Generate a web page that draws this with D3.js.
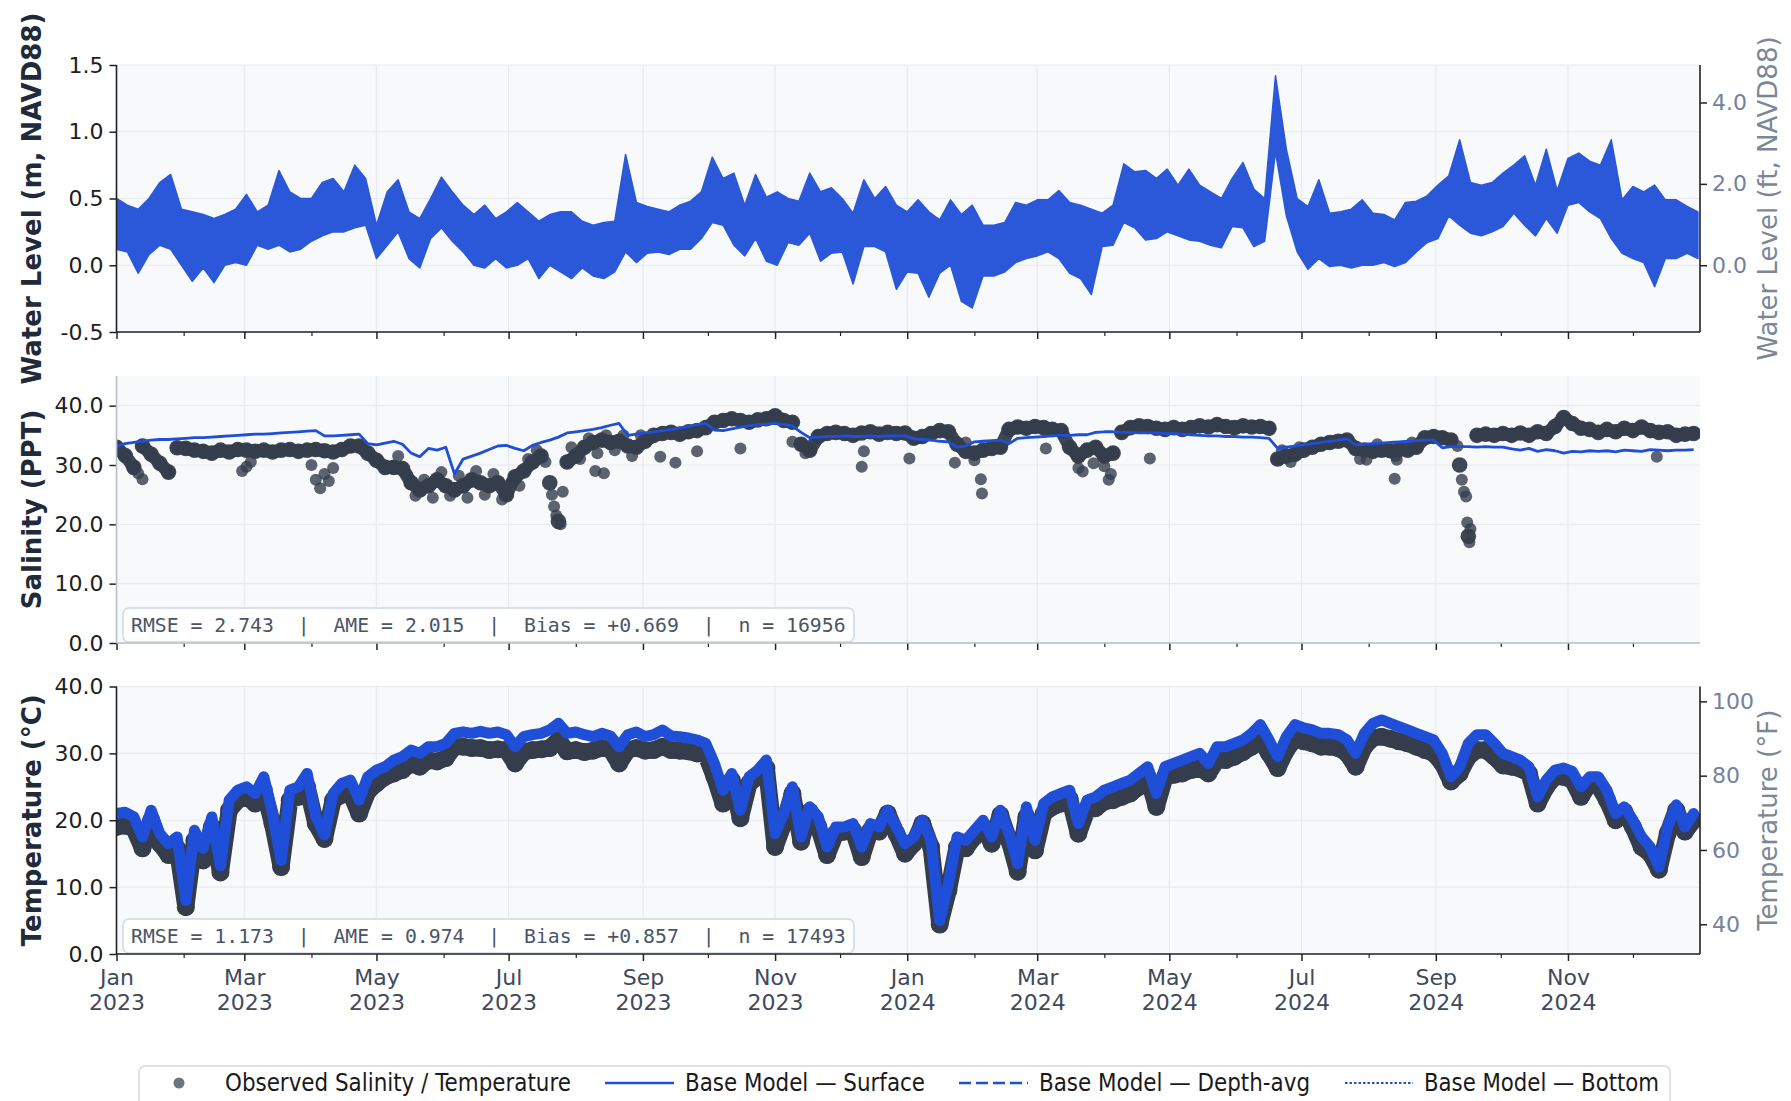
<!DOCTYPE html>
<html lang="en">
<head>
<meta charset="utf-8">
<title>Water level, salinity and temperature – observed vs model</title>
<script src="https://cdn.jsdelivr.net/npm/d3@7/dist/d3.min.js"></script>
<style>
html,body{margin:0;padding:0;background:#ffffff;}
svg{display:block;font-family:"DejaVu Sans","Noto Sans",sans-serif;}
</style>
</head>
<body>
<svg id="chart" width="1791" height="1101"></svg>
<script>
// ---------------- DATA ----------------
const seriesStartUTC = Date.UTC(2023, 0, 1);

// Water level (m, NAVD88): upper / lower envelope of the tidal signal, every 5 days
const wlStepDays = 5;
const wlHigh = [
 0.50,0.45,0.42,0.50,0.62,0.68,0.42,0.40,0.38,0.35,
 0.38,0.42,0.53,0.40,0.45,0.71,0.55,0.50,0.50,0.62,
 0.65,0.55,0.75,0.65,0.30,0.55,0.64,0.40,0.35,0.50,
 0.66,0.55,0.45,0.38,0.45,0.35,0.40,0.47,0.40,0.33,
 0.38,0.40,0.40,0.33,0.30,0.32,0.33,0.83,0.47,0.44,
 0.42,0.40,0.45,0.48,0.55,0.81,0.65,0.69,0.45,0.68,
 0.51,0.55,0.50,0.48,0.69,0.55,0.58,0.50,0.39,0.64,
 0.50,0.59,0.45,0.40,0.49,0.40,0.34,0.49,0.38,0.45,
 0.30,0.30,0.32,0.47,0.45,0.49,0.49,0.56,0.47,0.45,
 0.42,0.39,0.45,0.76,0.70,0.71,0.65,0.72,0.60,0.72,
 0.60,0.55,0.50,0.65,0.77,0.57,0.50,1.42,0.87,0.50,
 0.44,0.64,0.39,0.40,0.42,0.49,0.39,0.38,0.34,0.47,
 0.48,0.52,0.60,0.67,0.94,0.62,0.60,0.62,0.69,0.75,
 0.82,0.60,0.87,0.56,0.80,0.84,0.78,0.75,0.94,0.49,
 0.59,0.55,0.60,0.49,0.49,0.44,0.40];
const wlLow = [
 0.12,0.10,-0.06,0.08,0.15,0.12,0.00,-0.12,-0.02,-0.13,
 0.00,0.02,0.00,0.15,0.12,0.15,0.10,0.12,0.18,0.22,
 0.25,0.25,0.28,0.30,0.05,0.15,0.25,0.05,-0.02,0.20,
 0.28,0.18,0.10,0.00,-0.02,0.05,-0.02,0.00,0.05,-0.10,
 0.00,-0.05,-0.10,-0.02,-0.08,-0.10,-0.05,0.10,0.02,0.09,
 0.10,0.08,0.12,0.12,0.20,0.32,0.30,0.15,0.07,0.20,
 0.03,0.00,0.17,0.15,0.24,0.03,0.09,0.10,-0.14,0.14,
 0.14,0.10,-0.18,-0.05,-0.06,-0.24,-0.06,0.00,-0.27,-0.32,
 -0.08,-0.08,-0.05,0.02,0.05,0.07,0.10,0.05,-0.06,-0.10,
 -0.22,0.14,0.15,0.32,0.28,0.19,0.20,0.25,0.22,0.19,
 0.18,0.15,0.13,0.29,0.28,0.14,0.18,0.85,0.37,0.10,
 -0.03,0.05,-0.01,0.00,-0.02,0.00,0.00,0.02,-0.01,0.02,
 0.10,0.17,0.20,0.37,0.30,0.24,0.22,0.25,0.29,0.39,
 0.30,0.22,0.35,0.24,0.45,0.47,0.40,0.35,0.20,0.09,
 0.05,0.02,-0.16,0.05,0.05,0.09,0.05];

// Salinity (PPT), every 4 days
const salStepDays = 4;
const salModel = [
 33.1,33.6,33.8,34.0,34.2,34.3,34.3,34.4,34.5,34.6,
 34.6,34.7,34.8,34.9,35.0,35.1,35.2,35.2,35.3,35.4,
 35.5,35.6,35.7,35.8,34.9,34.9,35.0,35.1,35.2,33.6,
 33.4,33.7,34.0,33.5,32.0,31.4,32.8,32.5,33.0,28.5,
 31.0,31.5,32.0,32.6,33.2,33.3,32.8,32.4,33.3,33.8,
 34.2,34.7,35.4,35.6,35.8,36.0,36.3,36.7,37.0,35.0,
 35.2,35.4,35.6,35.8,36.0,36.2,36.5,36.8,37.0,35.9,
 35.8,36.1,36.4,36.6,36.8,36.9,37.0,36.8,36.6,35.5,
 34.6,34.7,34.8,34.8,34.9,34.8,34.8,34.9,34.8,34.9,
 34.9,34.9,34.4,34.3,34.2,34.0,33.9,33.0,33.2,33.9,
 34.0,34.1,34.2,33.6,34.5,34.6,34.7,34.8,34.9,35.0,
 35.0,35.1,35.1,35.5,35.6,35.6,35.5,35.5,35.4,35.4,
 35.4,35.3,35.3,35.2,35.1,35.0,34.9,34.9,34.8,34.8,
 34.7,34.7,34.6,34.5,32.8,33.0,33.2,33.4,33.6,33.8,
 34.0,34.2,34.4,33.4,33.5,33.6,33.7,33.8,33.9,34.0,
 34.1,34.2,34.2,32.9,33.1,33.1,33.1,33.0,33.1,33.0,
 33.0,32.7,32.5,32.8,32.3,32.6,32.4,32.0,32.3,32.2,
 32.4,32.3,32.4,32.2,32.5,32.4,32.3,32.6,32.5,32.4,
 32.5,32.5,32.6];
const salObs = [
 33.0,31.6,29.6,33.2,31.8,30.3,28.8,32.9,32.8,32.5,
 32.3,32.0,32.5,32.2,32.6,32.5,32.3,32.5,32.2,32.5,
 32.6,32.3,32.5,32.6,32.4,32.2,32.6,33.2,33.2,32.0,
 30.8,29.6,29.6,29.4,27.0,25.8,26.5,27.5,26.5,25.8,
 26.5,27.5,27.0,26.5,27.0,25.0,28.0,29.0,30.5,31.5,
 27.0,20.5,30.5,31.5,33.0,33.8,34.2,33.8,34.0,33.2,
 33.0,34.0,35.0,35.3,35.5,35.2,35.6,35.8,36.3,37.2,
 37.5,37.8,37.5,37.2,37.6,37.8,38.3,37.5,37.2,33.5,
 32.5,34.8,35.3,35.5,35.3,35.0,35.4,35.6,35.2,35.5,
 35.3,35.4,34.5,34.8,35.3,35.8,35.6,33.5,32.3,32.0,
 32.5,32.8,33.0,36.0,36.4,36.2,36.5,36.3,36.0,35.8,
 33.0,31.5,32.5,33.0,31.5,32.0,35.5,36.3,36.6,36.5,
 36.2,36.0,36.3,36.0,36.3,36.6,36.4,36.8,36.5,36.3,
 36.6,36.4,36.5,36.2,31.0,31.5,31.8,32.5,33.0,33.5,
 33.8,34.0,34.2,32.8,32.5,32.3,32.5,32.4,32.6,32.5,
 33.0,34.6,34.8,34.6,34.2,30.0,18.0,35.0,35.2,35.0,
 35.3,35.0,35.4,35.0,35.6,35.3,36.5,38.0,37.0,36.2,
 36.0,35.5,36.0,35.6,36.2,35.8,36.4,35.8,35.5,35.6,
 35.0,35.2,35.3];
// additional scattered observations (day since 1 Jan 2023, value)
const salObsExtraDays = [10,12,13,58,60,62,90,92,94,96,98,100,198,201,202,203,205,206,221,225,251,258,268,288,312,318,344,345,366,387,399,399.5,429,446,451,458,459,477,577,590,591,619,621,622,623,623.5,624.5,625,711,
 130,134,138,142,146,150,154,158,162,166,170,174,178,182,186,190,194,210,214,218,222,226,230,234,238,242,538,542,546,574,582,590.5,598,392,396,444,456];
const salObsExtraValues = [28.6,27.6,33.0,29.0,29.7,30.5,30.0,27.5,26.1,28.5,27.3,29.5,30.5,25.0,23.0,21.5,20.0,25.5,29.0,28.6,31.4,30.4,32.3,32.8,33.9,32.0,29.7,32.3,31.1,30.4,27.6,25.2,32.8,28.9,30.3,27.5,28.5,31.1,30.9,27.7,30.9,33.2,27.5,25.5,24.7,20.3,17.0,19.2,31.4,
 31.5,28.5,24.8,27.5,24.5,28.8,24.8,28.2,24.5,29.0,25.0,28.5,24.2,27.0,26.5,31.0,32.5,33.0,31.0,34.5,32.0,35.0,32.5,35.0,31.5,35.0,32.5,30.5,33.0,31.0,33.5,31.5,33.8,33.8,30.8,29.5,29.8];

// Temperature (°C), every 4 days
const tempStepDays = 4;
const tempModel = [
 21.0,21.2,20.5,17.5,21.5,18.0,16.5,17.5,8.0,18.5,
 15.8,20.5,13.2,23.0,24.5,25.0,24.0,26.5,21.0,14.0,
 24.5,25.0,27.0,20.5,17.8,24.0,25.5,26.0,23.0,26.5,
 27.5,28.0,29.0,29.5,30.5,30.0,31.0,31.0,31.5,33.0,
 33.2,33.0,33.3,33.0,33.2,32.8,31.0,32.5,32.8,33.0,
 33.5,34.5,33.0,33.2,32.8,32.5,33.0,32.6,31.0,32.8,
 33.2,32.5,32.8,33.5,32.6,32.5,32.3,32.0,31.5,28.5,
 24.5,27.0,21.5,26.5,27.5,29.0,18.0,21.0,25.0,17.5,
 22.0,20.5,16.0,19.0,19.0,19.5,16.0,19.5,19.0,21.5,
 19.0,16.5,17.5,20.0,17.0,5.0,10.5,17.5,17.0,18.5,
 20.0,17.5,21.5,18.0,13.5,22.0,17.0,22.5,23.5,24.0,
 24.5,19.5,23.0,23.5,24.5,25.0,25.5,26.0,27.0,28.0,
 24.0,28.0,28.5,29.0,29.5,30.0,28.5,31.0,31.0,31.5,
 32.0,33.0,34.3,32.0,29.5,32.5,34.3,33.8,33.5,33.0,
 33.0,32.8,32.0,30.0,33.0,34.5,35.0,34.5,34.0,33.5,
 33.0,32.5,32.0,30.0,26.5,28.0,31.5,32.8,32.8,31.5,
 30.0,29.5,29.0,28.0,23.5,26.0,27.5,27.8,27.3,25.0,
 26.5,26.5,24.5,21.0,22.0,20.0,17.5,16.0,13.0,19.0,
 22.3,19.0,21.0];
const tempObs = [
 19.0,19.2,18.8,15.8,20.0,16.5,14.8,15.8,7.0,17.0,
 14.0,19.0,12.2,21.5,23.0,23.5,22.5,24.5,19.5,13.0,
 23.0,23.5,25.0,19.5,17.2,23.0,23.8,24.0,21.0,24.3,
 25.5,26.5,27.0,27.5,28.5,28.0,29.0,28.8,29.3,31.0,
 31.0,30.8,30.8,30.5,30.6,30.5,28.5,30.2,30.5,30.6,
 30.8,32.0,30.3,30.5,30.2,30.4,30.8,30.6,28.5,30.5,
 30.8,30.4,30.5,31.0,30.5,30.4,30.3,30.0,29.8,26.5,
 22.5,26.0,20.3,25.5,26.5,27.8,16.0,19.5,24.0,16.8,
 21.3,19.0,14.8,18.0,18.3,18.5,14.5,18.5,18.3,21.0,
 18.0,15.0,16.5,19.5,16.0,4.4,9.5,16.0,15.8,17.5,
 19.0,16.5,20.8,17.0,12.3,20.5,15.5,21.0,22.0,22.5,
 23.2,18.0,21.5,21.8,22.8,23.0,23.5,24.0,25.0,26.5,
 22.0,26.5,26.8,27.0,27.5,27.8,27.0,29.0,29.0,29.5,
 30.2,31.0,32.0,30.0,27.8,30.5,32.2,31.8,31.5,31.0,
 31.0,30.8,30.0,28.0,31.0,32.3,32.5,32.2,31.8,31.5,
 31.0,30.5,30.0,28.5,25.8,27.0,29.5,30.5,30.5,29.5,
 28.2,28.0,27.7,27.0,22.5,25.0,26.5,26.5,26.0,23.5,
 25.5,25.2,23.0,20.0,21.3,19.0,16.0,15.0,12.6,18.0,
 21.5,18.3,20.0];

// tick values / labels
const wlTicksM = [-0.5, 0.0, 0.5, 1.0, 1.5];
const wlTicksFt = [0, 2, 4];
const salTicks = [0, 10, 20, 30, 40];
const tempTicksC = [0, 10, 20, 30, 40];
const tempTicksF = [40, 60, 80, 100];
const yTitles = ["Water Level (m, NAVD88)", "Salinity (PPT)", "Temperature (°C)"];
const yTitlesRight = ["Water Level (ft, NAVD88)", "Temperature (°F)"];
const legendLabels = ["Observed Salinity / Temperature", "Base Model — Surface", "Base Model — Depth-avg", "Base Model — Bottom"];
const statsLines = [
  "RMSE = 2.743  |  AME = 2.015  |  Bias = +0.669  |  n = 16956",
  "RMSE = 1.173  |  AME = 0.974  |  Bias = +0.857  |  n = 17493"];

// ---------------- LAYOUT ----------------
const dayToDate = d => new Date(seriesStartUTC + d * 86400000);
const svg = d3.select("#chart");
const L = 116.5, R = 1700;
const P = [{t: 65, b: 332}, {t: 376, b: 643}, {t: 686.5, b: 954}];
const C = {
  wl: "#2b58d8", model: "#1f4fd8", obs: "#353d4c", bg: "#f8f9fb", grid: "#e7eaef",
  spine: "#222222", spineLight: "#b7c1ce", tickTxt: "#1e1e1e", xTxt: "#3e4a5c",
  rightTxt: "#74829a", title: "#1f2a3a"
};
const x = d3.scaleUtc().domain([dayToDate(0), dayToDate(730.95)]).range([L, R]);
const yWL = d3.scaleLinear().domain([-0.5, 1.5]).range([P[0].b, P[0].t]);
const yWLft = d3.scaleLinear().domain([-0.5 * 3.28084, 1.5 * 3.28084]).range([P[0].b, P[0].t]);
const ySal = d3.scaleLinear().domain([0, 45]).range([P[1].b, P[1].t]);
const yT = d3.scaleLinear().domain([0, 40]).range([P[2].b, P[2].t]);
const yTF = d3.scaleLinear().domain([32, 104]).range([P[2].b, P[2].t]);

const majors = x.ticks(d3.utcMonth.every(2));
const minors = x.ticks(d3.utcMonth.every(1)).filter(d => d.getUTCMonth() % 2 === 1);
const f1 = v => d3.format(".1f")(v).replace("\u2212", "-");

const defs = svg.append("defs");
P.forEach((p, i) => {
  defs.append("clipPath").attr("id", "clip" + i)
    .append("rect").attr("x", L).attr("y", p.t).attr("width", R - L).attr("height", p.b - p.t);
});

function frame(i, yScale, ticks) {
  const p = P[i];
  const g = svg.append("g");
  g.append("rect").attr("x", L).attr("y", p.t).attr("width", R - L).attr("height", p.b - p.t).attr("fill", C.bg);
  g.selectAll(null).data(majors).join("line")
    .attr("x1", d => x(d)).attr("x2", d => x(d)).attr("y1", p.t).attr("y2", p.b)
    .attr("stroke", C.grid).attr("stroke-width", 1.2);
  g.selectAll(null).data(ticks).join("line")
    .attr("x1", L).attr("x2", R).attr("y1", d => yScale(d)).attr("y2", d => yScale(d))
    .attr("stroke", C.grid).attr("stroke-width", 1.2);
}

function axes(i, yScale, ticks, fmt, opts) {
  const p = P[i];
  const ga = svg.append("g").attr("transform", `translate(${L},0)`)
    .call(d3.axisLeft(yScale).tickValues(ticks).tickFormat(fmt).tickSizeInner(7).tickSizeOuter(0).tickPadding(6));
  ga.select(".domain").remove();
  ga.selectAll(".tick line").attr("stroke", C.spine).attr("stroke-width", 1.5);
  ga.selectAll(".tick text").attr("font-size", 22).attr("fill", C.tickTxt).attr("font-family", "DejaVu Sans");
  const gx = svg.append("g").attr("transform", `translate(0,${p.b})`)
    .call(d3.axisBottom(x).tickValues(majors).tickSizeInner(7).tickSizeOuter(0).tickFormat(""));
  gx.select(".domain").remove();
  gx.selectAll(".tick line").attr("stroke", C.spine).attr("stroke-width", 1.5);
  const gm = svg.append("g").attr("transform", `translate(0,${p.b})`)
    .call(d3.axisBottom(x).tickValues(minors).tickSizeInner(4).tickSizeOuter(0).tickFormat(""));
  gm.select(".domain").remove();
  gm.selectAll(".tick line").attr("stroke", C.spine).attr("stroke-width", 1.2);
  if (opts.labels) {
    gx.selectAll(".tick").each(function(d) {
      const t = d3.select(this).append("text").attr("fill", C.xTxt).attr("font-size", 22)
        .attr("text-anchor", "middle").attr("font-family", "DejaVu Sans");
      t.append("tspan").attr("x", 0).attr("y", 31).text(d3.utcFormat("%b")(d));
      t.append("tspan").attr("x", 0).attr("y", 56).text(d3.utcFormat("%Y")(d));
    });
  }
  const sc = opts.light ? C.spineLight : C.spine;
  svg.append("line").attr("x1", L).attr("x2", L).attr("y1", p.t).attr("y2", p.b).attr("stroke", sc).attr("stroke-width", 1.6);
  svg.append("line").attr("x1", L).attr("x2", R).attr("y1", p.b).attr("y2", p.b).attr("stroke", sc).attr("stroke-width", 1.6);
  if (opts.right) {
    svg.append("line").attr("x1", R).attr("x2", R).attr("y1", p.t).attr("y2", p.b).attr("stroke", C.spine).attr("stroke-width", 1.6);
    const gr = svg.append("g").attr("transform", `translate(${R},0)`)
      .call(d3.axisRight(opts.right.scale).tickValues(opts.right.ticks).tickFormat(opts.right.fmt).tickSizeInner(7).tickSizeOuter(0).tickPadding(5));
    gr.select(".domain").remove();
    gr.selectAll(".tick line").attr("stroke", C.spine).attr("stroke-width", 1.5);
    gr.selectAll(".tick text").attr("font-size", 22).attr("fill", C.rightTxt).attr("font-family", "DejaVu Sans");
    svg.append("text").attr("transform", `translate(1768,${(p.t + p.b) / 2}) rotate(-90)`)
      .attr("text-anchor", "middle").attr("dominant-baseline", "central")
      .attr("font-size", 26).attr("fill", "#7b8797").text(opts.right.title);
  }
  svg.append("text").attr("transform", `translate(32,${(p.t + p.b) / 2}) rotate(-90)`)
    .attr("text-anchor", "middle").attr("dominant-baseline", "central")
    .attr("font-size", 26).attr("font-weight", "bold").attr("fill", C.title).text(yTitles[i]);
}

function statsBox(i, text) {
  const p = P[i];
  const g = svg.append("g");
  g.append("rect").attr("x", 123).attr("y", p.b - 35).attr("width", 731).attr("height", 34).attr("rx", 6)
    .attr("fill", "#ffffff").attr("fill-opacity", 0.88).attr("stroke", "#cfd8e4").attr("stroke-width", 1.5);
  g.append("text").attr("x", 131).attr("y", p.b - 18).attr("dominant-baseline", "central")
    .attr("font-family", "DejaVu Sans Mono, monospace").attr("font-size", 19.8).attr("fill", "#4a5568")
    .style("white-space", "pre").text(text);
}

// ---------------- PANEL 1: water level ----------------
frame(0, yWL, wlTicksM);
const wlArea = d3.area()
  .x((d, i) => x(dayToDate(i * wlStepDays)))
  .y0((d, i) => yWL(wlLow[i]))
  .y1(d => yWL(d));
svg.append("path").datum(wlHigh).attr("clip-path", "url(#clip0)")
  .attr("d", wlArea).attr("fill", C.wl).attr("stroke", C.wl).attr("stroke-width", 1.5).attr("stroke-linejoin", "round");
axes(0, yWL, wlTicksM, f1, {right: {scale: yWLft, ticks: wlTicksFt, fmt: f1, title: yTitlesRight[0]}});

// ---------------- PANEL 2: salinity ----------------
frame(1, ySal, salTicks);
const gSal = svg.append("g").attr("clip-path", "url(#clip1)");
// continuous observed trace (broken where consecutive samples jump by more than 3 PPT)
const salSegs = [];
let seg = [];
salObs.forEach((v, i) => {
  if (i > 0 && Math.abs(v - salObs[i - 1]) > 3) { salSegs.push(seg); seg = []; }
  seg.push({d: i * salStepDays, v});
});
salSegs.push(seg);
const salObsLine = d3.line().x(p => x(dayToDate(p.d))).y(p => ySal(p.v));
gSal.selectAll(null).data(salSegs.filter(s => s.length > 1)).join("path")
  .attr("d", salObsLine).attr("fill", "none").attr("stroke", C.obs).attr("stroke-width", 13)
  .attr("stroke-linejoin", "round").attr("stroke-linecap", "round").attr("stroke-opacity", 0.95);
gSal.selectAll(null).data(salObsExtraDays).join("circle")
  .attr("cx", d => x(dayToDate(d))).attr("cy", (d, i) => ySal(salObsExtraValues[i]))
  .attr("r", 6).attr("fill", C.obs).attr("fill-opacity", 0.8);
gSal.selectAll(null).data(salObs).join("circle")
  .attr("cx", (d, i) => x(dayToDate(i * salStepDays))).attr("cy", d => ySal(d))
  .attr("r", 7.8).attr("fill", C.obs).attr("fill-opacity", 0.95);
const salLine = d3.line().x((d, i) => x(dayToDate(i * salStepDays))).y(d => ySal(d));
gSal.append("path").datum(salModel).attr("d", salLine).attr("fill", "none")
  .attr("stroke", C.model).attr("stroke-width", 2.8).attr("stroke-linejoin", "round");
statsBox(1, statsLines[0]);
axes(1, ySal, salTicks, f1, {light: true});

// ---------------- PANEL 3: temperature ----------------
frame(2, yT, tempTicksC);
const gT = svg.append("g").attr("clip-path", "url(#clip2)");
const tLine = d3.line().x((d, i) => x(dayToDate(i * tempStepDays))).y(d => yT(d));
gT.append("path").datum(tempObs).attr("d", tLine).attr("fill", "none")
  .attr("stroke", C.obs).attr("stroke-width", 17).attr("stroke-linejoin", "round").attr("stroke-linecap", "round");
gT.selectAll(null).data(tempObs).join("circle")
  .attr("cx", (d, i) => x(dayToDate(i * tempStepDays))).attr("cy", d => yT(d))
  .attr("r", 9).attr("fill", C.obs);
gT.append("path").datum(tempModel).attr("d", tLine).attr("fill", "none")
  .attr("stroke", C.model).attr("stroke-width", 11).attr("stroke-linejoin", "round").attr("stroke-linecap", "round");
statsBox(2, statsLines[1]);
axes(2, yT, tempTicksC, f1, {labels: true, right: {scale: yTF, ticks: tempTicksF, fmt: d3.format("d"), title: yTitlesRight[1]}});

// ---------------- LEGEND ----------------
const lg = svg.append("g");
lg.append("rect").attr("x", 139).attr("y", 1066).attr("width", 1531).attr("height", 60).attr("rx", 6)
  .attr("fill", "#ffffff").attr("stroke", "#d3d9e1").attr("stroke-width", 1.5);
const ly = 1083;
lg.append("circle").attr("cx", 179).attr("cy", ly).attr("r", 5.5).attr("fill", "#6b7280");
const lineItems = [
  {x1: 605, x2: 674, dash: null, w: 2.6},
  {x1: 959, x2: 1028, dash: "12,5", w: 2.6},
  {x1: 1345, x2: 1413, dash: "2.5,2", w: 2.2}];
lineItems.forEach(it => {
  const l = lg.append("line").attr("x1", it.x1).attr("x2", it.x2).attr("y1", ly).attr("y2", ly)
    .attr("stroke", C.model).attr("stroke-width", it.w);
  if (it.dash) l.attr("stroke-dasharray", it.dash);
});
const labelPos = [{x: 225, w: 346}, {x: 685, w: 240}, {x: 1039, w: 271}, {x: 1424, w: 235}];
legendLabels.forEach((t, i) => {
  lg.append("text").attr("x", labelPos[i].x).attr("y", ly).attr("dominant-baseline", "central")
    .attr("font-size", 24).attr("fill", "#1a1a1a")
    .attr("textLength", labelPos[i].w).attr("lengthAdjust", "spacingAndGlyphs").text(t);
});
</script>
</body>
</html>
